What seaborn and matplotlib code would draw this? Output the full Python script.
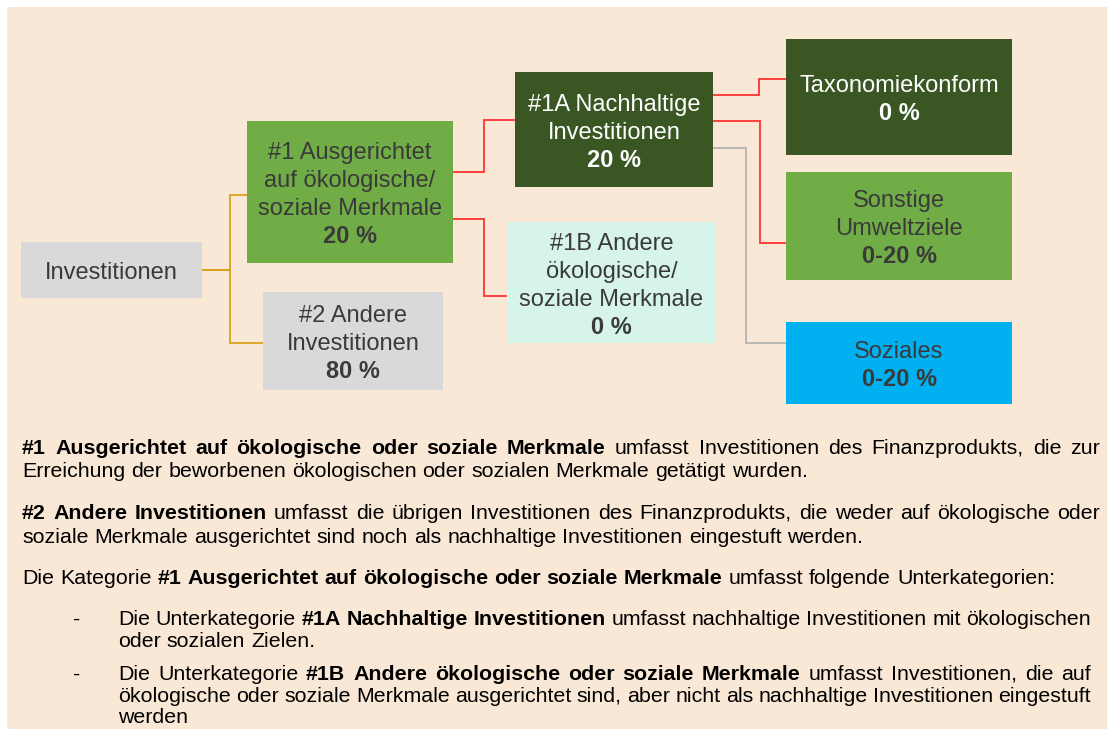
import matplotlib
matplotlib.use("Agg")
import matplotlib.pyplot as plt
from matplotlib.patches import Rectangle
from matplotlib.font_manager import FontProperties
import seaborn as sns

# --- diagram content ---
node_names = ["invest", "char", "other", "sust", "other_char", "taxo", "env", "social"]
node_lines = [
    ["Investitionen"],
    ["#1 Ausgerichtet", "auf ökologische/", "soziale Merkmale"],
    ["#2 Andere", "Investitionen"],
    ["#1A Nachhaltige", "Investitionen"],
    ["#1B Andere", "ökologische/", "soziale Merkmale"],
    ["Taxonomiekonform"],
    ["Sonstige", "Umweltziele"],
    ["Soziales"],
]
node_shares = ["", "20 %", "80 %", "20 %", "0 %", "0 %", "0-20 %", "0-20 %"]

# tree edges (parent -> child)
edge_parent = ["invest", "invest", "char", "char", "sust", "sust", "sust"]
edge_child = ["char", "other", "sust", "other_char", "taxo", "env", "social"]

# explanatory text, one entry per printed line: (segments, justified, bullet)
B, R = True, False
text_lines = [
    ([("#1 Ausgerichtet auf ökologische oder soziale Merkmale", B),
      ("umfasst Investitionen des Finanzprodukts, die zur", R)], True, False),
    ([("Erreichung der beworbenen ökologischen oder sozialen Merkmale getätigt wurden.", R)], False, False),
    ([("#2 Andere Investitionen", B),
      ("umfasst die übrigen Investitionen des Finanzprodukts, die weder auf ökologische oder", R)], True, False),
    ([("soziale Merkmale ausgerichtet sind noch als nachhaltige Investitionen eingestuft werden.", R)], False, False),
    ([("Die Kategorie", R), ("#1 Ausgerichtet auf ökologische oder soziale Merkmale", B),
      ("umfasst folgende Unterkategorien:", R)], False, False),
    ([("Die Unterkategorie", R), ("#1A Nachhaltige Investitionen", B),
      ("umfasst nachhaltige Investitionen mit ökologischen", R)], True, True),
    ([("oder sozialen Zielen.", R)], False, False),
    ([("Die Unterkategorie", R), ("#1B Andere ökologische oder soziale Merkmale", B),
      ("umfasst Investitionen, die auf", R)], True, True),
    ([("ökologische oder soziale Merkmale ausgerichtet sind, aber nicht als nachhaltige Investitionen eingestuft", R)], True, False),
    ([("werden", R)], False, False),
]

# --- layout (pixels) ---
box_xy = {
    "invest": (21, 242, 202, 298),
    "char": (247, 121, 453, 263),
    "other": (263, 292, 443, 390),
    "sust": (515, 72, 713, 187),
    "other_char": (507, 222, 716, 343),
    "taxo": (786, 39, 1012, 155),
    "env": (786, 172, 1012, 280),
    "social": (786, 322, 1012, 404),
}
DARK, MID, GREY, MINT, BLUE = "#3A5723", "#70AD47", "#D9D9D9", "#D6F4E9", "#00B0F0"
box_fill = {"invest": GREY, "char": MID, "other": GREY, "sust": DARK,
            "other_char": MINT, "taxo": DARK, "env": MID, "social": BLUE}
box_text_col = {k: ("white" if v == DARK else "#3A3A3A") for k, v in box_fill.items()}

GOLD, RED, LGREY = "#D9A21B", "#FF3333", "#B4B4B4"
# (y at parent, x of the vertical run, y at child, colour)
edge_route = [
    (270, 230, 195, GOLD), (270, 230, 343, GOLD),
    (172, 484, 120, RED), (219, 484, 296, RED),
    (95, 759, 79, RED), (121, 760, 243, RED), (148, 746, 343, LGREY),
]

line_base = [454, 477, 519, 543, 584, 625, 647, 680, 702, 723]

sns.set_theme(style="white")
plt.rcParams["font.family"] = ["Liberation Sans", "DejaVu Sans"]

W, H = 1107, 729
fig = plt.figure(figsize=(W / 100, H / 100), dpi=100)
fig.patch.set_facecolor("white")
ax = fig.add_axes([0, 0, 1, 1])
ax.set_xlim(0, W)
ax.set_ylim(H, 0)
ax.axis("off")

ax.add_patch(Rectangle((7, 7), W - 7, H - 7, facecolor="#FAE8D7", edgecolor="none", zorder=0))

# connectors
for p, c, (ya, xm, yb, col) in zip(edge_parent, edge_child, edge_route):
    x0 = box_xy[p][2]
    x1 = box_xy[c][0]
    ax.plot([x0, xm, xm, x1], [ya, ya, yb, yb], color=col, lw=1.3,
            solid_joinstyle="miter", zorder=1)

# boxes
BOX_FS = 17
STEP = 28
for name, lines, share in zip(node_names, node_lines, node_shares):
    x0, y0, x1, y1 = box_xy[name]
    ax.add_patch(Rectangle((x0, y0), x1 - x0, y1 - y0, facecolor=box_fill[name],
                           edgecolor="none", zorder=2))
    rows = [(t, False) for t in lines] + ([(share, True)] if share else [])
    cx, cy = (x0 + x1) / 2, (y0 + y1) / 2
    n = len(rows)
    for i, (t, bold) in enumerate(rows):
        yc = cy + (i - (n - 1) / 2) * STEP
        ax.text(cx, yc + 9, t, ha="center", va="baseline", fontsize=BOX_FS,
                fontweight="bold" if bold else "normal", color=box_text_col[name], zorder=3)

# body text, justified by hand
BODY_FS = 15.4
fig.canvas.draw()
renderer = fig.canvas.get_renderer()
fp_r = FontProperties(family=["Liberation Sans"], size=BODY_FS)
fp_b = FontProperties(family=["Liberation Sans"], size=BODY_FS, weight="bold")


def width(s, bold):
    fp = fp_b if bold else fp_r
    return renderer.get_text_width_height_descent(s, fp, ismath=False)[0]


space_w = width("x x", False) - width("xx", False)
LEFT, RIGHT = 22, 1100
B_LEFT, B_RIGHT, DASH_X = 118, 1091, 73

bullet_block = False
for (segs, justified, bullet), yb in zip(text_lines, line_base):
    if bullet:
        bullet_block = True
    left, right = (B_LEFT, B_RIGHT) if bullet_block else (LEFT, RIGHT)
    if bullet:
        ax.text(DASH_X, yb, "-", fontsize=BODY_FS, ha="left", va="baseline", color="black")
    words = [(w, b) for s, b in segs for w in s.split()]
    widths = [width(w, b) for w, b in words]
    if justified and len(words) > 1:
        gap = (right - left - sum(widths)) / (len(words) - 1)
    else:
        gap = space_w
    x = left
    for (w, b), ww in zip(words, widths):
        ax.text(x, yb, w, fontsize=BODY_FS, fontweight="bold" if b else "normal",
                ha="left", va="baseline", color="black")
        x += ww + gap

fig.savefig("out.png", dpi=100, facecolor="white")
